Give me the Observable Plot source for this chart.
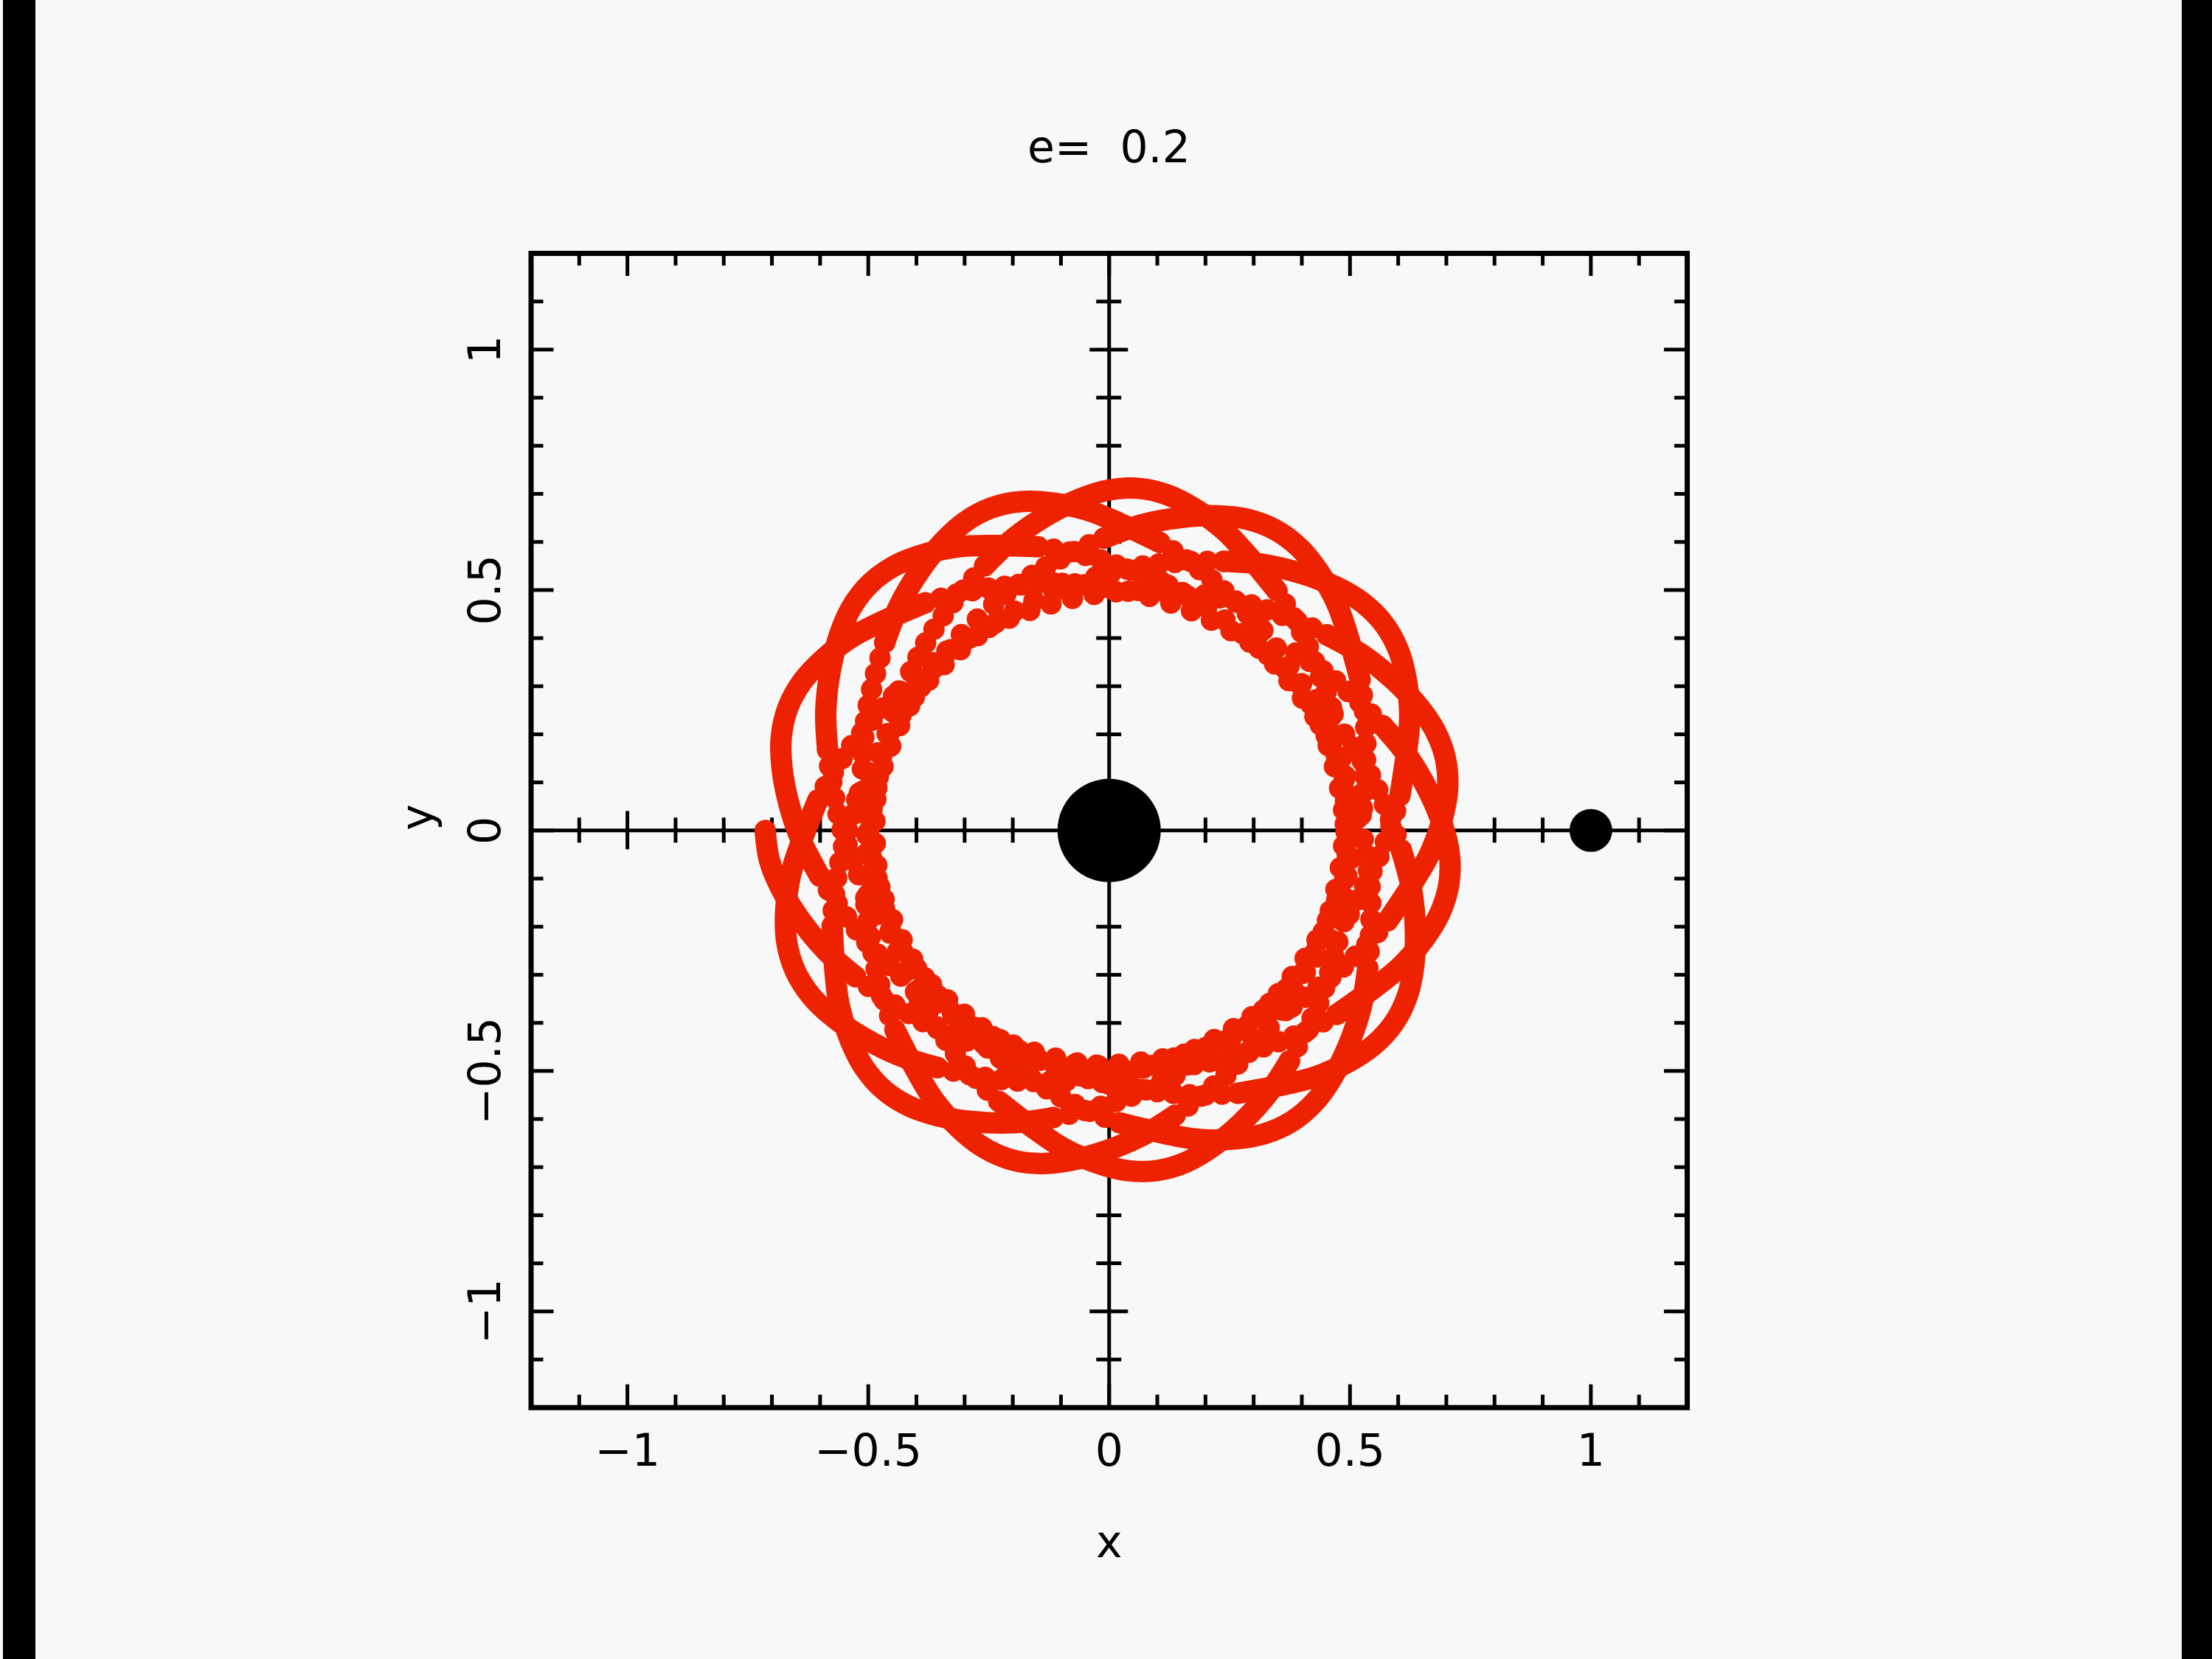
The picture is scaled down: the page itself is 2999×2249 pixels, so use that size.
<!DOCTYPE html>
<html>
<head>
<meta charset="utf-8">
<script src="https://cdn.jsdelivr.net/npm/d3@7"></script>
<script src="https://cdn.jsdelivr.net/npm/@observablehq/plot@0.6"></script>
<style>
  html, body { margin: 0; padding: 0; background: #f8f8f8; }
  body { width: 2999px; height: 2249px; position: relative; overflow: hidden;
         font-family: "DejaVu Sans", "Liberation Sans", Arial, sans-serif; }
  .bar { position: absolute; top: 0; height: 2249px; background: #000; }
  #title { position: absolute; left: 0; top: 169px; width: 3007px; text-align: center;
           font-size: 60px; line-height: 60px; white-space: pre; color: #000; }
  #chart { position: absolute; left: 0; top: 260px; }
</style>
</head>
<body>
<div class="bar" style="left:4px;width:44px"></div>
<div class="bar" style="left:2958px;width:41px"></div>
<div id="title">e=  0.2</div>
<div id="chart"></div>
<script>
// ---------------- data ----------------
// Petal tips (apocentre directions, degrees) of the successive orbits, in time order
const orbitTipDeg = [180, 12, 204, 37, 229, 61, 253, 85, 278, 110, 302, 134, 326, 159, 351];
// Shape of one orbit from a tip to the next: angle travelled from the tip (deg) and distance from the centre
const legAngleDeg = [0, 5, 10, 16, 23, 30, 38, 47, 56, 66, 76, 86, 96, 106, 117, 127, 136, 146, 154, 162, 170, 176, 182, 187, 192];
const legRadius   = [0.714, 0.708, 0.692, 0.668, 0.639, 0.608, 0.578, 0.551, 0.528, 0.510, 0.497, 0.489, 0.486,
                     0.489, 0.497, 0.510, 0.528, 0.551, 0.578, 0.608, 0.639, 0.668, 0.692, 0.708, 0.714];
// how far along its leg the last orbit gets (index into the leg arrays)
const lastLegStep = 8;

// massive bodies
const bodyX = [0, 1];
const bodyY = [0, 0];

// axes
const xDomain = [-1.2, 1.2];
const yDomain = [-1.2, 1.2];
const majorTicks = [-1, -0.5, 0, 0.5, 1];
const tickLabels = ["\u22121", "\u22120.5", "0", "0.5", "1"];
const minorTicks = [-1.1, -0.9, -0.8, -0.7, -0.6, -0.4, -0.3, -0.2, -0.1, 0.1, 0.2, 0.3, 0.4, 0.6, 0.7, 0.8, 0.9, 1.1];
const xLabel = "x";
const yLabel = "y";

// ---------------- build the track table ----------------
const legSpan = legAngleDeg[legAngleDeg.length - 1];
const track = [];
orbitTipDeg.forEach((tip, k) => {
  const last = k === orbitTipDeg.length - 1;
  const span = last ? legSpan : (((orbitTipDeg[k + 1] - tip) % 360) + 360) % 360;
  const nSteps = last ? lastLegStep + 1 : legAngleDeg.length - 1;
  for (let j = 0; j < nSteps; j++) {
    const a = (tip + legAngleDeg[j] * span / legSpan) * Math.PI / 180;
    track.push({x: legRadius[j] * Math.cos(a), y: legRadius[j] * Math.sin(a), r: legRadius[j]});
  }
});
// split the track into stretches: solid (slow, dots merge), beaded, dotted (fast, dots apart)
const rows = [];
let seg = -1, cur = null;
for (let i = 0; i < track.length - 1; i++) {
  const m = (track[i].r + track[i + 1].r) / 2;
  const cls = m < 0.53 ? "dotted" : m < 0.615 ? "beaded" : "solid";
  if (cls !== cur) { seg++; cur = cls; rows.push({...track[i], seg, cls}); }
  rows.push({...track[i + 1], seg, cls});
}

// ---------------- plot ----------------
const W = 2999, H = 1989;
const mL = 719.5, mR = 712, mT = 83, mB = 341.3;
const pxX = (W - mL - mR) / (xDomain[1] - xDomain[0]);
const pxY = (H - mT - mB) / (yDomain[1] - yDomain[0]);
const minorLen = 17, majorLen = 31, axMinor = 17, axMajor = 26;
const red = "#ee2200";
const font = "'DejaVu Sans', 'Liberation Sans', Arial, sans-serif";
const orbitStyle = {x: "x", y: "y", z: "seg", curve: "catmull-rom", stroke: red, strokeWidth: 29,
                    strokeLinecap: "round", strokeLinejoin: "round"};
const tk = {stroke: "black", strokeWidth: 5};
const txt = {fontSize: 60, fontFamily: font, fill: "black", lineAnchor: "middle"};

const chart = Plot.plot({
  width: W, height: H,
  marginLeft: mL, marginRight: mR, marginTop: mT, marginBottom: mB,
  x: {domain: xDomain, axis: null},
  y: {domain: yDomain, axis: null},
  style: {background: "transparent", fontFamily: font, fontSize: "60px", color: "black", overflow: "visible"},
  marks: [
    // inward frame ticks
    Plot.ruleX(minorTicks, {x: d => d, y1: yDomain[0], y2: yDomain[0] + minorLen / pxY, ...tk}),
    Plot.ruleX(majorTicks, {x: d => d, y1: yDomain[0], y2: yDomain[0] + majorLen / pxY, ...tk}),
    Plot.ruleX(minorTicks, {x: d => d, y1: yDomain[1], y2: yDomain[1] - minorLen / pxY, ...tk}),
    Plot.ruleX(majorTicks, {x: d => d, y1: yDomain[1], y2: yDomain[1] - majorLen / pxY, ...tk}),
    Plot.ruleY(minorTicks, {y: d => d, x1: xDomain[0], x2: xDomain[0] + minorLen / pxX, ...tk}),
    Plot.ruleY(majorTicks, {y: d => d, x1: xDomain[0], x2: xDomain[0] + majorLen / pxX, ...tk}),
    Plot.ruleY(minorTicks, {y: d => d, x1: xDomain[1], x2: xDomain[1] - minorLen / pxX, ...tk}),
    Plot.ruleY(majorTicks, {y: d => d, x1: xDomain[1], x2: xDomain[1] - majorLen / pxX, ...tk}),
    // cross-hair axes through the origin, ticked on both sides
    Plot.ruleX([0], {stroke: "black", strokeWidth: 5}),
    Plot.ruleY([0], {stroke: "black", strokeWidth: 5}),
    Plot.ruleX(minorTicks, {x: d => d, y1: -axMinor / pxY, y2: axMinor / pxY, ...tk}),
    Plot.ruleX(majorTicks.filter(d => d !== 0), {x: d => d, y1: -axMajor / pxY, y2: axMajor / pxY, ...tk}),
    Plot.ruleY(minorTicks, {y: d => d, x1: -axMinor / pxX, x2: axMinor / pxX, ...tk}),
    Plot.ruleY(majorTicks.filter(d => d !== 0), {y: d => d, x1: -axMajor / pxX, x2: axMajor / pxX, ...tk}),
    // orbit
    Plot.line(rows.filter(d => d.cls === "solid"), orbitStyle),
    Plot.line(rows.filter(d => d.cls === "beaded"), {...orbitStyle, strokeDasharray: "0 22"}),
    Plot.line(rows.filter(d => d.cls === "dotted"), {...orbitStyle, strokeDasharray: "0 30"}),
    // bodies
    Plot.dot([0], {x: i => bodyX[i], y: i => bodyY[i], r: 70, fill: "black", stroke: null}),
    Plot.dot([1], {x: i => bodyX[i], y: i => bodyY[i], r: 29, fill: "black", stroke: null}),
    Plot.frame({stroke: "black", strokeWidth: 7}),
    // tick labels and axis labels
    Plot.text(majorTicks, {x: d => d, frameAnchor: "bottom", dy: 60, text: (d, i) => tickLabels[i], textAnchor: "middle", ...txt}),
    Plot.text(majorTicks, {y: d => d, frameAnchor: "left", dx: -61.7, rotate: -90, text: (d, i) => tickLabels[i], textAnchor: "middle", ...txt}),
    Plot.text([xLabel], {frameAnchor: "bottom", dy: 184, text: d => d, ...txt}),
    Plot.text([yLabel], {frameAnchor: "left", dx: -153.5, rotate: -90, text: d => d, ...txt})
  ]
});
document.getElementById("chart").appendChild(chart);
</script>
</body>
</html>
